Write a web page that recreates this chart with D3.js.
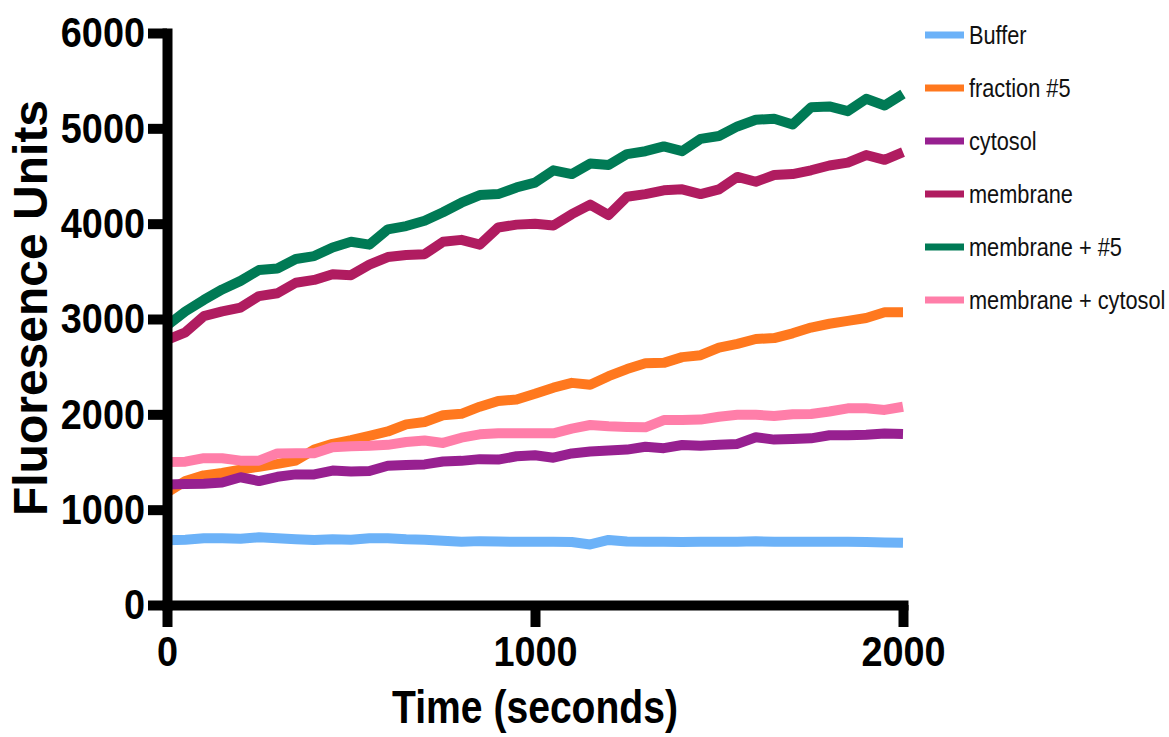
<!DOCTYPE html>
<html>
<head>
<meta charset="utf-8">
<script src="https://cdn.jsdelivr.net/npm/d3@7"></script>
<style>
  body { margin: 0; background: #fff; }
  svg { display: block; font-family: "Liberation Sans", Arial, sans-serif; }
</style>
</head>
<body>
<svg width="1169" height="737"></svg>
<script>
'use strict';

let time = [0, 50, 100, 150, 200, 250, 300, 350, 400, 450, 500, 550, 600, 650, 700, 750, 800, 850, 900, 950,
  1000, 1050, 1100, 1150, 1200, 1250, 1300, 1350, 1400, 1450, 1500, 1550, 1600, 1650, 1700, 1750, 1800, 1850, 1900, 1950, 2000];

let buffer = [680, 685, 700, 700, 695, 710, 700, 690, 682, 690, 685, 700, 700, 690, 685, 675, 664, 670, 665, 664,
  664, 664, 660, 635, 682, 665, 664, 664, 660, 664, 664, 664, 668, 664, 664, 664, 664, 664, 660, 655, 652];

let fraction5 = [1180, 1300, 1360, 1385, 1420, 1450, 1480, 1515, 1630, 1690, 1730, 1775, 1820, 1895, 1920, 1990, 2005, 2080, 2140, 2155,
  2215, 2280, 2330, 2310, 2400, 2475, 2535, 2540, 2600, 2620, 2700, 2740, 2790, 2800, 2850, 2910, 2950, 2980, 3010, 3070, 3070];

let cytosol = [1265, 1269, 1272, 1285, 1340, 1300, 1345, 1370, 1370, 1410, 1400, 1405, 1460, 1469, 1475, 1505, 1512, 1530, 1525, 1560,
  1570, 1545, 1590, 1610, 1620, 1630, 1660, 1645, 1678, 1670, 1680, 1690, 1760, 1735, 1740, 1748, 1780, 1780, 1785, 1800, 1795];

let membrane = [2780, 2860, 3030, 3080, 3120, 3240, 3270, 3380, 3410, 3470, 3460, 3570, 3650, 3672, 3680, 3810, 3830, 3780, 3960, 3990,
  4000, 3980, 4100, 4200, 4090, 4283, 4310, 4350, 4360, 4310, 4360, 4490, 4440, 4510, 4520, 4560, 4610, 4640, 4720, 4670, 4750];

let membrane5 = [2930, 3080, 3200, 3310, 3400, 3514, 3530, 3630, 3660, 3750, 3810, 3780, 3940, 3975, 4030, 4120, 4220, 4300, 4310, 4380,
  4430, 4560, 4520, 4630, 4615, 4730, 4760, 4810, 4760, 4890, 4920, 5020, 5090, 5100, 5040, 5220, 5230, 5180, 5310, 5240, 5360];

let membraneCytosol = [1500, 1503, 1540, 1540, 1514, 1514, 1590, 1591, 1591, 1655, 1665, 1670, 1680, 1710, 1725, 1700, 1755, 1790, 1801, 1801,
  1801, 1801, 1850, 1888, 1875, 1868, 1864, 1940, 1941, 1945, 1975, 1995, 1995, 1983, 2000, 2004, 2030, 2063, 2063, 2046, 2080];

let seriesNames = ["Buffer", "fraction #5", "cytosol", "membrane", "membrane + #5", "membrane + cytosol"];
let seriesValues = [buffer, fraction5, cytosol, membrane, membrane5, membraneCytosol];
let seriesColors = ["#6cb2f8", "#ff781e", "#972090", "#b01c60", "#007a55", "#ff7ea9"];

let xTicks = [0, 1000, 2000];
let yTicks = [0, 1000, 2000, 3000, 4000, 5000, 6000];

let svg = d3.select("svg");

let x = d3.scaleLinear().domain([0, 2000]).range([167, 903]);
let y = d3.scaleLinear().domain([0, 6000]).range([605, 33]);

let series = seriesNames.map((name, i) => ({
  name: name,
  color: seriesColors[i],
  values: time.map((t, j) => ({ t: t, v: seriesValues[i][j] }))
}));

let line = d3.line()
  .x(d => x(d.t))
  .y(d => y(d.v));

svg.append("g")
  .attr("fill", "none")
  .attr("stroke-width", 10)
  .attr("stroke-linejoin", "round")
  .selectAll("path")
  .data(series)
  .join("path")
    .attr("stroke", d => d.color)
    .attr("d", d => line(d.values));

// axes, GraphPad style: thick black lines
let yAxis = svg.append("g")
  .attr("transform", "translate(167,0)")
  .call(d3.axisLeft(y).tickValues(yTicks).tickFormat(d3.format("d"))
    .tickSize(19).tickSizeOuter(0).tickPadding(3));

let xAxis = svg.append("g")
  .attr("transform", "translate(0,605)")
  .call(d3.axisBottom(x).tickValues(xTicks).tickFormat(d3.format("d"))
    .tickSize(22).tickSizeOuter(0).tickPadding(8));

[yAxis, xAxis].forEach(a => {
  a.select(".domain").attr("stroke", "#000").attr("stroke-width", 10).attr("stroke-linecap", "square");
  a.selectAll(".tick line").attr("stroke", "#000").attr("stroke-width", 10);
  a.selectAll(".tick text")
    .attr("fill", "#000")
    .attr("font-family", "'Liberation Sans', Arial, sans-serif")
    .attr("font-weight", "bold")
    .attr("font-size", 43);
});

yAxis.selectAll(".tick text")
  .attr("x", -22 / 0.88)
  .attr("transform", "scale(0.88,1)");

xAxis.selectAll(".tick text")
  .attr("transform", "scale(0.88,1)");

svg.append("text")
  .attr("transform", "translate(47,308) rotate(-90)")
  .attr("text-anchor", "middle")
  .attr("font-weight", "bold")
  .attr("font-size", 48)
  .text("Fluoresence Units");

svg.append("text")
  .attr("transform", "translate(535,723) scale(0.85,1)")
  .attr("text-anchor", "middle")
  .attr("font-weight", "bold")
  .attr("font-size", 46)
  .text("Time (seconds)");

let legend = svg.append("g")
  .selectAll("g")
  .data(series)
  .join("g")
    .attr("transform", (d, i) => `translate(925,${35 + i * 53})`);

legend.append("line")
  .attr("x1", 0)
  .attr("x2", 39)
  .attr("stroke", d => d.color)
  .attr("stroke-width", 7);

legend.append("text")
  .attr("transform", "translate(44,0) scale(0.87,1)")
  .attr("dy", "0.36em")
  .attr("font-size", 25)
  .attr("fill", "#111")
  .text(d => d.name);
</script>
</body>
</html>
